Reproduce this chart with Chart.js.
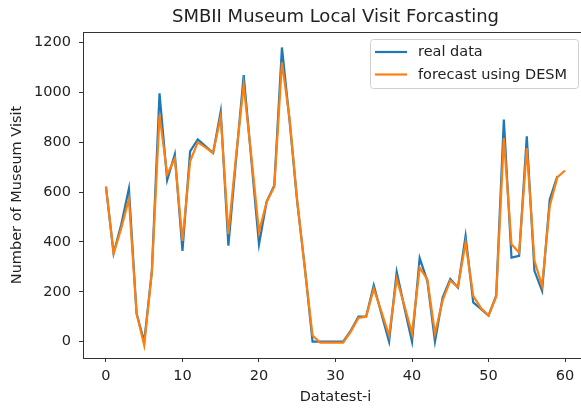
<!DOCTYPE html>
<html>
<head>
<meta charset="utf-8">
<title>SMBII Museum Local Visit Forcasting</title>
<script src="https://cdn.jsdelivr.net/npm/chart.js@4.4.1/dist/chart.umd.min.js"></script>
<style>
  html, body { margin: 0; padding: 0; background: #ffffff; overflow: hidden; }
  #wrap { width: 592px; height: 409px; }
</style>
</head>
<body>
<div id="wrap"><canvas id="chart" width="592" height="409"></canvas></div>
<script>
// Monthly local visits to SMBII Museum and the DESM forecast (one step ahead)
const realData = [
  622, 354, 470, 614, 113, 0, 282, 997, 648, 752,
  364, 764, 812, 785, 757, 924, 385, 730, 1070, 730,
  390, 562, 627, 1181, 885, 560, 295, 0, 0, 0,
  0, 0, 44, 100, 100, 226, 112, 0, 280, 137,
  0, 335, 244, 0, 177, 251, 217, 424, 157, 131,
  104, 184, 891, 337, 344, 824, 284, 204, 571, 664
];
const forecastData = [
  622, 354, 455, 573, 113, -15, 282, 911, 671, 735,
  404, 724, 800, 780, 757, 904, 431, 745, 1031, 745,
  440, 560, 622, 1121, 895, 565, 290, 24, -4, -4,
  -4, -4, 40, 95, 100, 212, 120, 24, 252, 145,
  32, 297, 250, 32, 165, 245, 220, 397, 184, 135,
  105, 180, 817, 391, 357, 777, 324, 224, 544, 660,
  687
];
const seriesLabels = ['real data', 'forecast using DESM'];
const xTicks = [0, 10, 20, 30, 40, 50, 60];
const yTicks = [0, 200, 400, 600, 800, 1000, 1200];

const BLUE = '#1f77b4';
const ORANGE = '#ff7f0e';
const INK = '#222222';
const FONT = 'DejaVu Sans';

const toPoints = arr => arr.map((v, i) => ({ x: i, y: v }));

// Frame around the plotting area (all four sides)
const frame = {
  id: 'frame',
  afterDatasetsDraw(chart) {
    const { ctx, chartArea: a } = chart;
    ctx.save();
    ctx.strokeStyle = '#333333';
    ctx.lineWidth = 1;
    ctx.strokeRect(Math.round(a.left) + 0.5, Math.round(a.top) + 0.5,
                   Math.round(a.right - a.left), Math.round(a.bottom - a.top));
    ctx.restore();
  }
};

// Legend box in the upper right of the plot
const boxLegend = {
  id: 'boxLegend',
  afterDraw(chart) {
    const { ctx } = chart;
    const x0 = 370, y0 = 39, w = 208, h = 49, r = 3;
    ctx.save();
    ctx.beginPath();
    ctx.roundRect(x0 + 0.5, y0 + 0.5, w, h, r);
    ctx.fillStyle = 'rgba(255,255,255,0.8)';
    ctx.fill();
    ctx.strokeStyle = '#d0d0d0';
    ctx.lineWidth = 1;
    ctx.stroke();
    ctx.font = '14.5px "' + FONT + '"';
    ctx.textBaseline = 'middle';
    ctx.textAlign = 'left';
    chart.data.datasets.forEach((ds, i) => {
      const yy = 52 + i * 22.5;
      ctx.beginPath();
      ctx.moveTo(375, yy);
      ctx.lineTo(407, yy);
      ctx.strokeStyle = ds.borderColor;
      ctx.lineWidth = 2.2;
      ctx.stroke();
      ctx.fillStyle = INK;
      ctx.fillText(ds.label, 418, yy + 0.5);
    });
    ctx.restore();
  }
};

new Chart(document.getElementById('chart'), {
  type: 'line',
  data: {
    datasets: [
      { label: seriesLabels[0], data: toPoints(realData), borderColor: BLUE,
        backgroundColor: BLUE, borderWidth: 2.2, pointRadius: 0, tension: 0, order: 1 },
      { label: seriesLabels[1], data: toPoints(forecastData), borderColor: ORANGE,
        backgroundColor: ORANGE, borderWidth: 2.2, pointRadius: 0, tension: 0, order: 0 }
    ]
  },
  options: {
    responsive: false,
    animation: false,
    devicePixelRatio: 1,
    layout: { padding: { left: 0, right: 4, top: 0, bottom: 0 } },
    plugins: {
      legend: { display: false },
      tooltip: { enabled: false },
      title: {
        display: true,
        fullSize: false,
        text: 'SMBII Museum Local Visit Forcasting',
        color: INK,
        font: { family: FONT, size: 18, weight: 'normal', lineHeight: 1.2 },
        padding: { top: 7, bottom: 3.4 }
      }
    },
    scales: {
      x: {
        type: 'linear',
        min: -3,
        max: 63,
        afterBuildTicks: s => { s.ticks = xTicks.map(v => ({ value: v })); },
        afterFit: s => { s.height = 51; },
        border: { display: false },
        grid: { display: true, drawOnChartArea: false, drawTicks: true, tickLength: 4, color: '#333333', lineWidth: 1 },
        ticks: { color: INK, padding: 6, maxRotation: 0, callback: v => String(v),
                 font: { family: FONT, size: 14.5 } },
        title: { display: true, text: 'Datatest-i', color: INK,
                 font: { family: FONT, size: 14.5 }, padding: { top: 0, bottom: 3 } }
      },
      y: {
        type: 'linear',
        min: -66,
        max: 1243,
        afterBuildTicks: s => { s.ticks = yTicks.map(v => ({ value: v })); },
        afterFit: s => { s.width = 83; },
        border: { display: false },
        grid: { display: true, drawOnChartArea: false, drawTicks: true, tickLength: 4, color: '#333333', lineWidth: 1 },
        ticks: { color: INK, padding: 8, callback: v => String(v),
                 font: { family: FONT, size: 14.5 } },
        title: { display: true, text: 'Number of Museum Visit', color: INK,
                 font: { family: FONT, size: 14.5 }, padding: { top: 9, bottom: 0 } }
      }
    }
  },
  plugins: [frame, boxLegend]
});
</script>
</body>
</html>
